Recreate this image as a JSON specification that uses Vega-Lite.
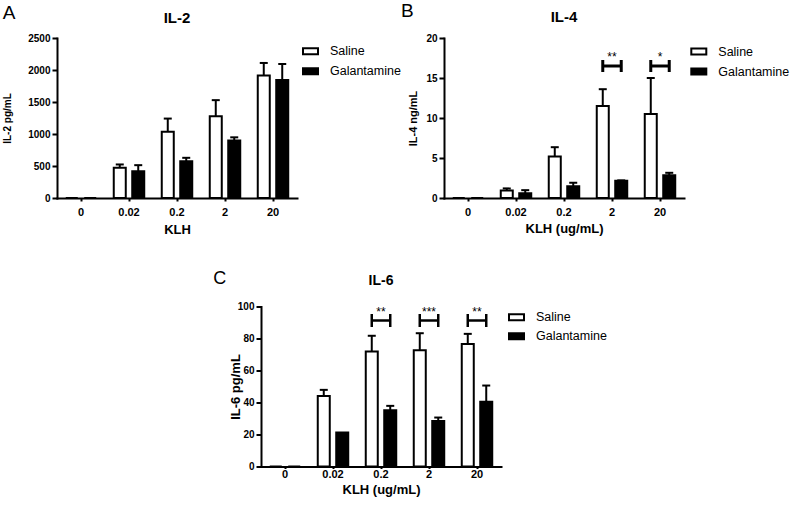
{
  "$schema": "https://vega.github.io/schema/vega-lite/v6.json",
  "padding": {"left": 2, "top": 2, "right": 0, "bottom": 0},
  "background": "white",
  "datasets": {
    "il2": [
      {"klh": "0", "group": "Saline", "value": 0, "upper": null},
      {"klh": "0", "group": "Galantamine", "value": 0, "upper": null},
      {"klh": "0.02", "group": "Saline", "value": 471, "upper": 524},
      {"klh": "0.02", "group": "Galantamine", "value": 419, "upper": 513},
      {"klh": "0.2", "group": "Saline", "value": 1037, "upper": 1241},
      {"klh": "0.2", "group": "Galantamine", "value": 576, "upper": 628},
      {"klh": "2", "group": "Saline", "value": 1277, "upper": 1529},
      {"klh": "2", "group": "Galantamine", "value": 900, "upper": 948},
      {"klh": "20", "group": "Saline", "value": 1916, "upper": 2110},
      {"klh": "20", "group": "Galantamine", "value": 1843, "upper": 2094}
    ],
    "il4": [
      {"klh": "0", "group": "Saline", "value": 0, "upper": null},
      {"klh": "0", "group": "Galantamine", "value": 0, "upper": null},
      {"klh": "0.02", "group": "Saline", "value": 0.94, "upper": 1.2},
      {"klh": "0.02", "group": "Galantamine", "value": 0.6, "upper": 0.98},
      {"klh": "0.2", "group": "Saline", "value": 5.2, "upper": 6.35},
      {"klh": "0.2", "group": "Galantamine", "value": 1.48, "upper": 1.9},
      {"klh": "2", "group": "Saline", "value": 11.5, "upper": 13.6},
      {"klh": "2", "group": "Galantamine", "value": 2.15, "upper": 2.2},
      {"klh": "20", "group": "Saline", "value": 10.5, "upper": 15.0},
      {"klh": "20", "group": "Galantamine", "value": 2.85, "upper": 3.15}
    ],
    "il6": [
      {"klh": "0", "group": "Saline", "value": 0, "upper": null},
      {"klh": "0", "group": "Galantamine", "value": 0, "upper": null},
      {"klh": "0.02", "group": "Saline", "value": 44, "upper": 47.9},
      {"klh": "0.02", "group": "Galantamine", "value": 21.3, "upper": null},
      {"klh": "0.2", "group": "Saline", "value": 71.9, "upper": 81.7},
      {"klh": "0.2", "group": "Galantamine", "value": 35.2, "upper": 37.9},
      {"klh": "2", "group": "Saline", "value": 72.7, "upper": 83.3},
      {"klh": "2", "group": "Galantamine", "value": 28.5, "upper": 30.6},
      {"klh": "20", "group": "Saline", "value": 76.5, "upper": 82.9},
      {"klh": "20", "group": "Galantamine", "value": 40.4, "upper": 50.6}
    ],
    "sig4": [
      {"klh": "2", "group": "Saline", "bracket": 16.5, "starY": 17.15, "stars": "**"},
      {"klh": "2", "group": "Galantamine", "bracket": 16.5, "starY": 17.15, "stars": "**"},
      {"klh": "20", "group": "Saline", "bracket": 16.5, "starY": 17.15, "stars": "*"},
      {"klh": "20", "group": "Galantamine", "bracket": 16.5, "starY": 17.15, "stars": "*"}
    ],
    "sig6": [
      {"klh": "0.2", "group": "Saline", "bracket": 91.25, "starY": 94.2, "stars": "**"},
      {"klh": "0.2", "group": "Galantamine", "bracket": 91.25, "starY": 94.2, "stars": "**"},
      {"klh": "2", "group": "Saline", "bracket": 91.25, "starY": 94.2, "stars": "***"},
      {"klh": "2", "group": "Galantamine", "bracket": 91.25, "starY": 94.2, "stars": "***"},
      {"klh": "20", "group": "Saline", "bracket": 91.25, "starY": 94.2, "stars": "**"},
      {"klh": "20", "group": "Galantamine", "bracket": 91.25, "starY": 94.2, "stars": "**"}
    ]
  },
  "config": {
    "view": {"stroke": null},
    "font": "Liberation Sans",
    "tick": {"opacity": 1},
    "axis": {
      "domainColor": "black", "domainWidth": 2, "domainCap": "square",
      "tickColor": "black", "tickWidth": 2,
      "labelColor": "black", "titleColor": "black",
      "labelFont": "Liberation Sans", "labelFontWeight": "bold",
      "titleFont": "Liberation Sans", "titleFontWeight": "bold",
      "labelOverlap": false,
      "grid": false
    },
    "axisX": {"tickSize": 3, "labelPadding": 5.3, "labelFontSize": 11, "titleFontSize": 13, "titlePadding": 5, "labelAngle": 0},
    "axisY": {"tickSize": 5, "labelPadding": 2, "labelFontSize": 10},
    "legend": {
      "padding": 0,
      "symbolType": "M-1,-0.4H1V0.4H-1Z",
      "symbolSize": 225,
      "symbolStrokeColor": "black",
      "symbolStrokeWidth": 2,
      "labelFont": "Liberation Sans",
      "labelFontSize": 12.5,
      "labelColor": "black",
      "labelOffset": 11,
      "labelLimit": 200,
      "rowPadding": 4
    },
    "title": {"font": "Liberation Sans", "color": "black"}
  },
  "spacing": 32.5,
  "resolve": {"scale": {"fill": "independent", "xOffset": "independent"}},
  "vconcat": [
    {
      "spacing": -1,
      "resolve": {"scale": {"fill": "independent", "xOffset": "independent"}},
      "hconcat": [
        {
          "title": {"text": "A", "anchor": "start", "fontSize": 19, "fontWeight": "normal", "offset": -12},
          "resolve": {"scale": {"fill": "independent", "xOffset": "independent"}},
          "vconcat": [
            {
              "title": {"text": "IL-2", "fontSize": 15, "fontWeight": "bold", "offset": 7, "anchor": "middle", "frame": "group"},
              "width": 240,
              "height": 160,
              "data": {"name": "il2"},
              "encoding": {
                "x": {"field": "klh", "type": "nominal", "sort": ["0", "0.02", "0.2", "2", "20"],
                      "scale": {"domain": ["0", "0.02", "0.2", "2", "20"], "paddingInner": 0.365, "paddingOuter": 0.1825},
                      "axis": {"title": "KLH", "titlePadding": 6}}
              },
              "layer": [
                {
                  "mark": {"type": "bar", "stroke": "black", "strokeWidth": 2},
                  "encoding": {
                    "xOffset": {"field": "group", "type": "nominal", "scale": {"domain": ["Saline", "Galantamine"], "paddingInner": 0.35, "paddingOuter": 0}},
                    "y": {"field": "value", "type": "quantitative", "title": "IL-2 pg/mL",
                          "scale": {"domain": [0, 2500], "nice": false},
                          "axis": {"values": [0, 500, 1000, 1500, 2000, 2500], "format": "d", "titleFontSize": 10, "titlePadding": 15}},
                    "fill": {"field": "group", "type": "nominal",
                             "scale": {"domain": ["Saline", "Galantamine"], "range": ["white", "black"]},
                             "legend": {"orient": "none", "legendX": 245, "legendY": 4.8, "title": null}}
                  }
                },
                {
                  "transform": [{"filter": "datum.upper != null"}],
                  "mark": {"type": "rule", "strokeWidth": 2, "color": "black"},
                  "encoding": {
                    "xOffset": {"field": "group", "type": "nominal", "scale": {"domain": ["Saline", "Galantamine"], "paddingInner": 0.35, "paddingOuter": 0}},
                    "y": {"field": "value", "type": "quantitative", "title": "IL-2 pg/mL",
                          "scale": {"domain": [0, 2500], "nice": false},
                          "axis": {"values": [0, 500, 1000, 1500, 2000, 2500], "format": "d", "titleFontSize": 10, "titlePadding": 15}},
                    "y2": {"field": "upper"}
                  }
                },
                {
                  "transform": [{"filter": "datum.upper != null"}],
                  "mark": {"type": "tick", "thickness": 2, "size": 8, "color": "black", "opacity": 1},
                  "encoding": {
                    "xOffset": {"field": "group", "type": "nominal", "scale": {"domain": ["Saline", "Galantamine"], "paddingInner": 0.35, "paddingOuter": 0}},
                    "y": {"field": "upper", "type": "quantitative", "title": "IL-2 pg/mL",
                          "scale": {"domain": [0, 2500], "nice": false},
                          "axis": {"values": [0, 500, 1000, 1500, 2000, 2500], "format": "d", "titleFontSize": 10, "titlePadding": 15}}
                  }
                }
              ]
            }
          ]
        },
        {
          "title": {"text": "B", "anchor": "start", "fontSize": 19, "fontWeight": "normal", "offset": -11, "dx": -7},
          "resolve": {"scale": {"fill": "independent", "xOffset": "independent"}},
          "vconcat": [
            {
              "title": {"text": "IL-4", "fontSize": 15, "fontWeight": "bold", "offset": 7.6, "anchor": "middle", "frame": "group"},
              "width": 240,
              "height": 160,
              "encoding": {
                "x": {"field": "klh", "type": "nominal", "sort": ["0", "0.02", "0.2", "2", "20"],
                      "scale": {"domain": ["0", "0.02", "0.2", "2", "20"], "paddingInner": 0.365, "paddingOuter": 0.1825},
                      "axis": {"title": "KLH (ug/mL)", "titlePadding": 5, "labelPadding": 5.4}}
              },
              "layer": [
                {
                  "data": {"name": "il4"},
                  "mark": {"type": "bar", "stroke": "black", "strokeWidth": 2},
                  "encoding": {
                    "xOffset": {"field": "group", "type": "nominal", "scale": {"domain": ["Saline", "Galantamine"], "paddingInner": 0.35, "paddingOuter": 0}},
                    "y": {"field": "value", "type": "quantitative", "title": "IL-4 ng/mL",
                          "scale": {"domain": [0, 20], "nice": false},
                          "axis": {"values": [0, 5, 10, 15, 20], "format": "d", "titleFontSize": 11, "titlePadding": 7}},
                    "fill": {"field": "group", "type": "nominal",
                             "scale": {"domain": ["Saline", "Galantamine"], "range": ["white", "black"]},
                             "legend": {"orient": "none", "legendX": 246.3, "legendY": 5, "title": null}}
                  }
                },
                {
                  "data": {"name": "il4"},
                  "transform": [{"filter": "datum.upper != null"}],
                  "mark": {"type": "rule", "strokeWidth": 2, "color": "black"},
                  "encoding": {
                    "xOffset": {"field": "group", "type": "nominal", "scale": {"domain": ["Saline", "Galantamine"], "paddingInner": 0.35, "paddingOuter": 0}},
                    "y": {"field": "value", "type": "quantitative", "title": "IL-4 ng/mL",
                          "scale": {"domain": [0, 20], "nice": false},
                          "axis": {"values": [0, 5, 10, 15, 20], "format": "d", "titleFontSize": 11, "titlePadding": 7}},
                    "y2": {"field": "upper"}
                  }
                },
                {
                  "data": {"name": "il4"},
                  "transform": [{"filter": "datum.upper != null"}],
                  "mark": {"type": "tick", "thickness": 2, "size": 8, "color": "black", "opacity": 1},
                  "encoding": {
                    "xOffset": {"field": "group", "type": "nominal", "scale": {"domain": ["Saline", "Galantamine"], "paddingInner": 0.35, "paddingOuter": 0}},
                    "y": {"field": "upper", "type": "quantitative", "title": "IL-4 ng/mL",
                          "scale": {"domain": [0, 20], "nice": false},
                          "axis": {"values": [0, 5, 10, 15, 20], "format": "d", "titleFontSize": 11, "titlePadding": 7}}
                  }
                },
                {
                  "data": {"name": "sig4"},
                  "transform": [{"filter": "datum.group == 'Saline'"}],
                  "mark": {"type": "tick", "orient": "horizontal", "thickness": 3, "size": 20, "color": "black", "opacity": 1},
                  "encoding": {
                    "y": {"field": "bracket", "type": "quantitative", "title": "IL-4 ng/mL",
                          "scale": {"domain": [0, 20], "nice": false},
                          "axis": {"values": [0, 5, 10, 15, 20], "format": "d", "titleFontSize": 11, "titlePadding": 7}}
                  }
                },
                {
                  "data": {"name": "sig4"},
                  "mark": {"type": "tick", "orient": "vertical", "thickness": 3, "size": 12, "color": "black", "opacity": 1},
                  "encoding": {
                    "xOffset": {"field": "group", "type": "nominal", "scale": {"domain": ["Saline", "Galantamine"], "paddingInner": 0.35, "paddingOuter": 0}},
                    "y": {"field": "bracket", "type": "quantitative", "title": "IL-4 ng/mL",
                          "scale": {"domain": [0, 20], "nice": false},
                          "axis": {"values": [0, 5, 10, 15, 20], "format": "d", "titleFontSize": 11, "titlePadding": 7}}
                  }
                },
                {
                  "data": {"name": "sig4"},
                  "transform": [{"filter": "datum.group == 'Saline'"}],
                  "mark": {"type": "text", "font": "Liberation Sans", "fontSize": 12, "baseline": "alphabetic", "color": "black"},
                  "encoding": {
                    "y": {"field": "starY", "type": "quantitative", "title": "IL-4 ng/mL",
                          "scale": {"domain": [0, 20], "nice": false},
                          "axis": {"values": [0, 5, 10, 15, 20], "format": "d", "titleFontSize": 11, "titlePadding": 7}},
                    "text": {"field": "stars"}
                  }
                }
              ]
            }
          ]
        }
      ]
    },
    {
      "spacing": 0,
      "resolve": {"scale": {"fill": "independent", "xOffset": "independent"}},
      "hconcat": [
        {"width": 156, "height": 1, "data": {"values": []}, "mark": "point"},
        {
          "title": {"text": "C", "anchor": "start", "fontSize": 18, "fontWeight": "normal", "offset": -13.5, "dx": -16},
          "resolve": {"scale": {"fill": "independent", "xOffset": "independent"}},
          "vconcat": [
            {
              "title": {"text": "IL-6", "fontSize": 14, "fontWeight": "bold", "offset": 13.1, "anchor": "middle", "frame": "group"},
              "width": 240,
              "height": 160,
              "encoding": {
                "x": {"field": "klh", "type": "nominal", "sort": ["0", "0.02", "0.2", "2", "20"],
                      "scale": {"domain": ["0", "0.02", "0.2", "2", "20"], "paddingInner": 0.365, "paddingOuter": 0.1825},
                      "axis": {"title": "KLH (ug/mL)", "tickSize": 2, "labelPadding": 0, "titlePadding": 4}}
              },
              "layer": [
                {
                  "data": {"name": "il6"},
                  "mark": {"type": "bar", "stroke": "black", "strokeWidth": 2},
                  "encoding": {
                    "xOffset": {"field": "group", "type": "nominal", "scale": {"domain": ["Saline", "Galantamine"], "paddingInner": 0.35, "paddingOuter": 0}},
                    "y": {"field": "value", "type": "quantitative", "title": "IL-6 pg/mL",
                          "scale": {"domain": [0, 100], "nice": false},
                          "axis": {"values": [0, 20, 40, 60, 80, 100], "format": "d", "titleFontSize": 13, "titlePadding": -5}},
                    "fill": {"field": "group", "type": "nominal",
                             "scale": {"domain": ["Saline", "Galantamine"], "range": ["white", "black"]},
                             "legend": {"orient": "none", "legendX": 247, "legendY": 2.3, "rowPadding": 3, "title": null}}
                  }
                },
                {
                  "data": {"name": "il6"},
                  "transform": [{"filter": "datum.upper != null"}],
                  "mark": {"type": "rule", "strokeWidth": 2, "color": "black"},
                  "encoding": {
                    "xOffset": {"field": "group", "type": "nominal", "scale": {"domain": ["Saline", "Galantamine"], "paddingInner": 0.35, "paddingOuter": 0}},
                    "y": {"field": "value", "type": "quantitative", "title": "IL-6 pg/mL",
                          "scale": {"domain": [0, 100], "nice": false},
                          "axis": {"values": [0, 20, 40, 60, 80, 100], "format": "d", "titleFontSize": 13, "titlePadding": -5}},
                    "y2": {"field": "upper"}
                  }
                },
                {
                  "data": {"name": "il6"},
                  "transform": [{"filter": "datum.upper != null"}],
                  "mark": {"type": "tick", "thickness": 2, "size": 8, "color": "black", "opacity": 1},
                  "encoding": {
                    "xOffset": {"field": "group", "type": "nominal", "scale": {"domain": ["Saline", "Galantamine"], "paddingInner": 0.35, "paddingOuter": 0}},
                    "y": {"field": "upper", "type": "quantitative", "title": "IL-6 pg/mL",
                          "scale": {"domain": [0, 100], "nice": false},
                          "axis": {"values": [0, 20, 40, 60, 80, 100], "format": "d", "titleFontSize": 13, "titlePadding": -5}}
                  }
                },
                {
                  "data": {"name": "sig6"},
                  "transform": [{"filter": "datum.group == 'Saline'"}],
                  "mark": {"type": "tick", "orient": "horizontal", "thickness": 2.5, "size": 19, "color": "black", "opacity": 1},
                  "encoding": {
                    "y": {"field": "bracket", "type": "quantitative", "title": "IL-6 pg/mL",
                          "scale": {"domain": [0, 100], "nice": false},
                          "axis": {"values": [0, 20, 40, 60, 80, 100], "format": "d", "titleFontSize": 13, "titlePadding": -5}}
                  }
                },
                {
                  "data": {"name": "sig6"},
                  "mark": {"type": "tick", "orient": "vertical", "thickness": 2.5, "size": 13, "color": "black", "opacity": 1},
                  "encoding": {
                    "xOffset": {"field": "group", "type": "nominal", "scale": {"domain": ["Saline", "Galantamine"], "paddingInner": 0.35, "paddingOuter": 0}},
                    "y": {"field": "bracket", "type": "quantitative", "title": "IL-6 pg/mL",
                          "scale": {"domain": [0, 100], "nice": false},
                          "axis": {"values": [0, 20, 40, 60, 80, 100], "format": "d", "titleFontSize": 13, "titlePadding": -5}}
                  }
                },
                {
                  "data": {"name": "sig6"},
                  "transform": [{"filter": "datum.group == 'Saline'"}],
                  "mark": {"type": "text", "font": "Liberation Sans", "fontSize": 12, "baseline": "alphabetic", "color": "black"},
                  "encoding": {
                    "y": {"field": "starY", "type": "quantitative", "title": "IL-6 pg/mL",
                          "scale": {"domain": [0, 100], "nice": false},
                          "axis": {"values": [0, 20, 40, 60, 80, 100], "format": "d", "titleFontSize": 13, "titlePadding": -5}},
                    "text": {"field": "stars"}
                  }
                }
              ]
            }
          ]
        }
      ]
    }
  ]
}
